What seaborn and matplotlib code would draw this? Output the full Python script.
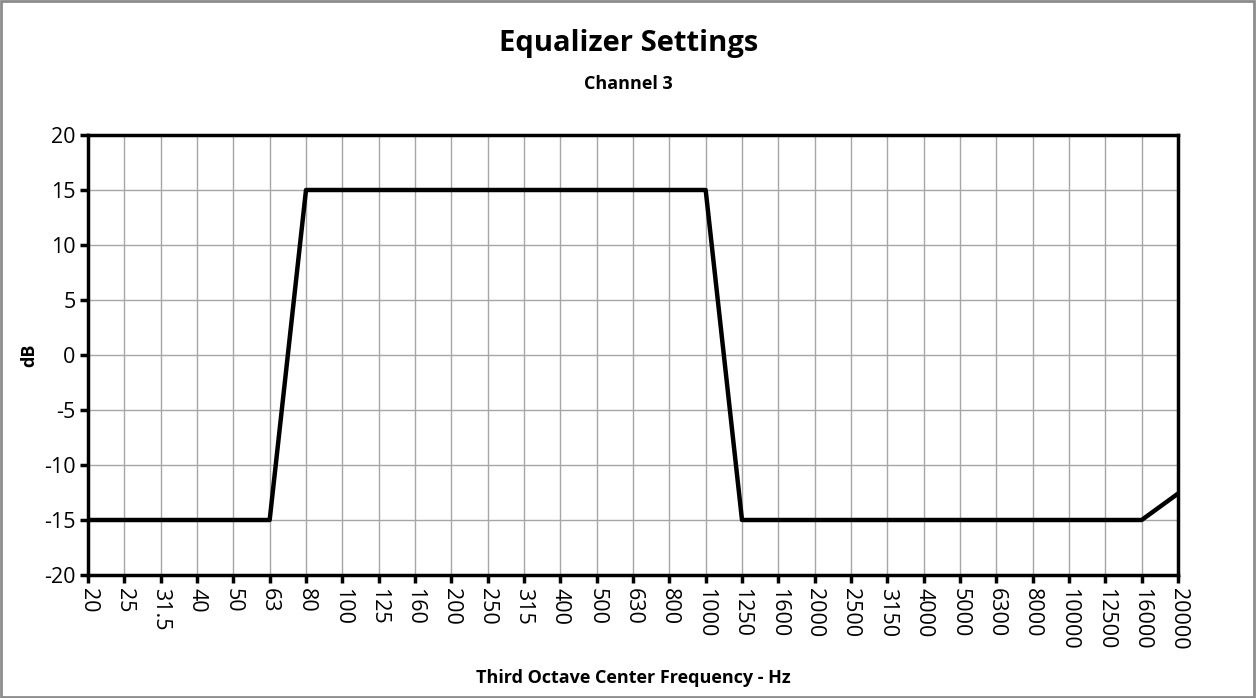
import numpy as np
import pandas as pd
import matplotlib.pyplot as plt
import seaborn as sns
from matplotlib.patches import Rectangle

freqs = ["20", "25", "31.5", "40", "50", "63", "80", "100", "125", "160", "200",
         "250", "315", "400", "500", "630", "800", "1000", "1250", "1600", "2000",
         "2500", "3150", "4000", "5000", "6300", "8000", "10000", "12500", "16000", "20000"]
gain_db = [-15, -15, -15, -15, -15, -15, 15, 15, 15, 15, 15,
           15, 15, 15, 15, 15, 15, 15, -15, -15, -15,
           -15, -15, -15, -15, -15, -15, -15, -15, -15, -12.6]
y_ticks = [-20, -15, -10, -5, 0, 5, 10, 15, 20]

sns.set_style("white")
plt.rcParams['font.family'] = ['Open Sans', 'DejaVu Sans']
plt.rcParams['axes.unicode_minus'] = False
plt.rcParams['text.color'] = 'black'
plt.rcParams['axes.labelcolor'] = 'black'
plt.rcParams['xtick.color'] = 'black'
plt.rcParams['ytick.color'] = 'black'

df = pd.DataFrame({"freq": freqs, "db": gain_db})

fig = plt.figure(figsize=(12.57, 6.98), dpi=100)
ax = fig.add_axes([88 / 1257, 1 - 575 / 698, (1178 - 88) / 1257, (575 - 135) / 698])

sns.lineplot(data=df, x="freq", y="db", ax=ax, color="black", linewidth=3.2, sort=False)

ax.set_xlim(0, len(freqs) - 1)
ax.set_ylim(-20, 20)
ax.set_yticks(y_ticks)
ax.set_xticks(range(len(freqs)))
ax.set_xticklabels(freqs, rotation=-90)
ax.grid(True, color="#a6a6a6", linewidth=1)
ax.set_axisbelow(True)
for s in ax.spines.values():
    s.set_color("black")
    s.set_linewidth(2.5)
ax.tick_params(axis="both", direction="out", length=6, width=2.5, color="black",
               labelcolor="black", labelsize=15.5, pad=3)
ax.tick_params(axis="x", bottom=True, top=False)
ax.tick_params(axis="y", left=True, right=False)

ax.set_xlabel("Third Octave Center Frequency - Hz", fontsize=13, fontweight="bold", labelpad=14)
ax.set_ylabel("dB", fontsize=13, fontweight="bold", labelpad=4)

fig.text(0.5, 1 - 44 / 698, "Equalizer Settings", ha="center", va="center",
         fontsize=21, fontweight="bold")
fig.text(0.5, 1 - 84 / 698, "Channel 3", ha="center", va="center",
         fontsize=13, fontweight="bold")

fig.patches.append(Rectangle((0.001, 0.002), 0.997, 0.996, transform=fig.transFigure,
                             fill=False, edgecolor="#8c8c8c", linewidth=2))

fig.savefig("out.png", dpi=100)
